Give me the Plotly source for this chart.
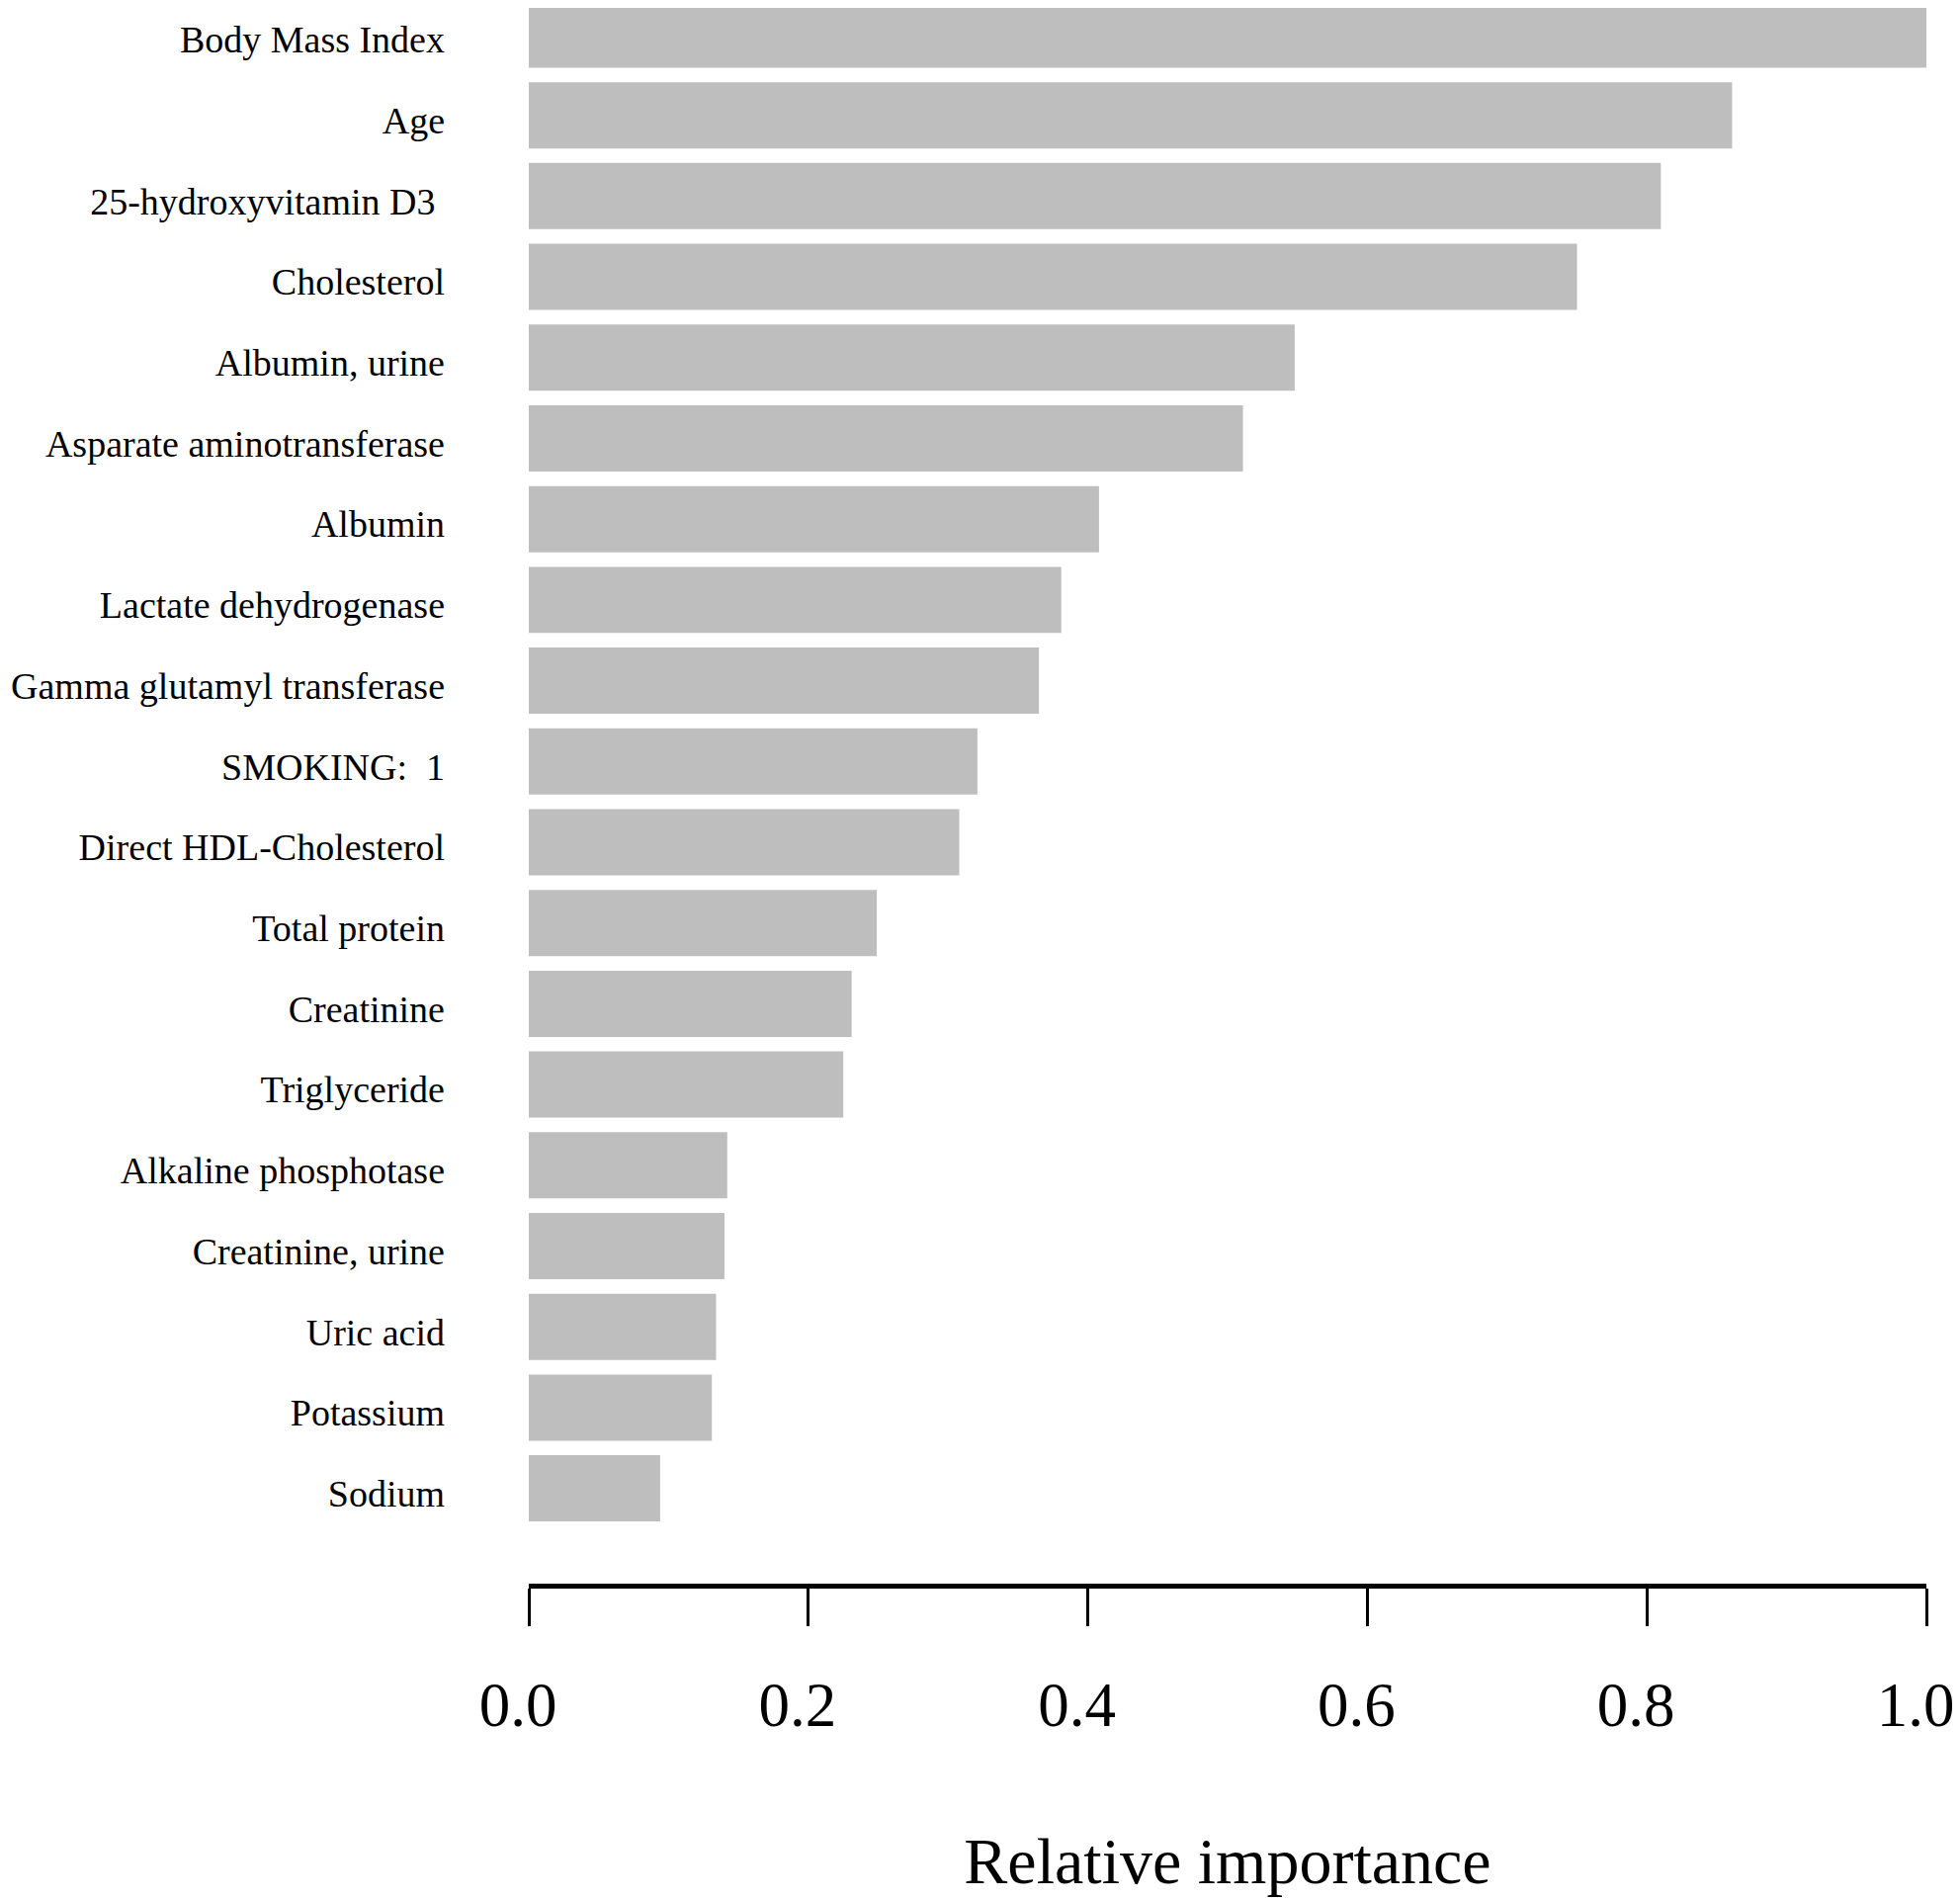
import plotly.graph_objects as go

# variable importance
features = ['Body Mass Index', 'Age', '25-hydroxyvitamin D3 ', 'Cholesterol', 'Albumin, urine',
            'Asparate aminotransferase', 'Albumin', 'Lactate dehydrogenase',
            'Gamma glutamyl transferase', 'SMOKING:  1', 'Direct HDL-Cholesterol',
            'Total protein', 'Creatinine', 'Triglyceride', 'Alkaline phosphotase',
            'Creatinine, urine', 'Uric acid', 'Potassium', 'Sodium']
importance = [1.0, 0.861, 0.810, 0.750, 0.548, 0.511, 0.408, 0.381, 0.365, 0.321,
              0.308, 0.249, 0.231, 0.225, 0.142, 0.140, 0.134, 0.131, 0.094]
xticks = [0.0, 0.2, 0.4, 0.6, 0.8, 1.0]
xticklabels = ['0.0', '0.2', '0.4', '0.6', '0.8', '1.0']

fnt = 'Liberation Serif, Times New Roman, serif'

fig = go.Figure(go.Bar(
    x=importance, y=list(range(len(features))), orientation='h',
    marker=dict(color='#bebebe', line=dict(width=0)), width=0.82))

# page body has an 8px margin, so the figure is 8px smaller
fig.update_layout(
    width=1975, height=1914,
    margin=dict(l=527, r=34, t=0, b=320),
    paper_bgcolor='white', plot_bgcolor='white',
    showlegend=False,
    font=dict(family=fnt, color='black'),
)
fig.update_xaxes(
    automargin=False,
    range=[0, 1.0], tickvals=xticks, ticktext=xticklabels,
    showgrid=False, zeroline=False,
    showline=True, linecolor='black', linewidth=5,
    ticks='outside', ticklen=38, tickwidth=3, tickcolor='black',
    ticklabelstandoff=25, ticklabelshift=-11, ticklabeloverflow='allow',
    tickfont=dict(size=63, family=fnt),
    title=dict(text='Relative importance', font=dict(size=66, family=fnt), standoff=102),
)
fig.update_yaxes(
    automargin=False,
    range=[19.18, -0.33],
    tickvals=list(range(len(features))), ticktext=features,
    showgrid=False, zeroline=False, showline=False, ticks='',
    ticklabelstandoff=84, ticklabelshift=-5,
    tickfont=dict(size=38, family=fnt),
)

fig.write_html("out.html")
